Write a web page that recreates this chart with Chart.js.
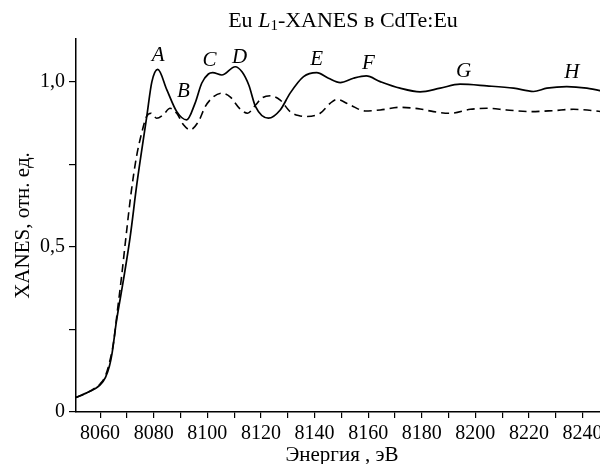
<!DOCTYPE html>
<html lang="ru">
<head>
    <meta charset="UTF-8">
    <title>Eu L1-XANES в CdTe:Eu</title>
    <script src="https://cdn.jsdelivr.net/npm/chart.js"></script>
    <style>
        html, body {
            margin: 0;
            padding: 0;
            width: 600px;
            height: 464px;
            overflow: hidden;
            background: #fff;
        }

        /* chart is a bit wider than the window, like the cropped original */
        .chart-box {
            position: absolute;
            left: 0;
            top: 0;
            width: 608px;
            height: 464px;
        }

        .title {
            position: absolute;
            left: 343px;
            top: 7px;
            transform: translateX(-50%);
            font-family: "Liberation Serif", serif;
            font-size: 22px;
            white-space: nowrap;
            color: #000;
        }

        .title sub {
            font-size: 15px;
            vertical-align: -3px;
            line-height: 0;
        }
    </style>
</head>
<body>
    <div class="chart-box">
        <canvas id="xanesChart"></canvas>
    </div>
    <div class="title">Eu <i>L</i><sub>1</sub>-XANES в CdTe:Eu</div>

    <script>
        // solid curve
        const energySolid = [8051, 8055, 8058, 8060, 8062, 8063.5, 8064.5, 8066, 8068.7, 8071.2,
            8073.7, 8077.4, 8079.3, 8081.5, 8084.9, 8088.6, 8092.3, 8095.4, 8097.9, 8100.4,
            8102, 8105.4, 8110.4, 8113, 8115.5, 8118, 8122.8, 8127.2, 8130.9, 8135.9,
            8140.8, 8145.2, 8149.6, 8154.5, 8159.3, 8164.5, 8171.9, 8179.4, 8186.9, 8194.3,
            8204.3, 8214.3, 8221.7, 8226.7, 8234.1, 8241.6, 8249.5];
        const xanesSolid = [0.044, 0.058, 0.07, 0.082, 0.105, 0.14, 0.18, 0.27, 0.40, 0.53,
            0.69, 0.895, 1.0, 1.038, 0.976, 0.91, 0.885, 0.935, 0.996, 1.024,
            1.028, 1.021, 1.046, 1.03, 0.99, 0.925, 0.89, 0.915, 0.966, 1.016,
            1.028, 1.011, 0.998, 1.011, 1.018, 1.001, 0.981, 0.97, 0.981, 0.993,
            0.988, 0.981, 0.971, 0.981, 0.986, 0.981, 0.968];

        // dashed curve
        const energyDashed = [8051, 8055, 8058, 8060, 8062, 8063.5, 8065, 8066.5, 8068, 8069.5,
            8071.5, 8073.5, 8075.5, 8077.3, 8079, 8081.1, 8083.5, 8086.1, 8088.6, 8091.1,
            8093.6, 8096.7, 8099.2, 8102.3, 8105.4, 8108.5, 8112, 8115, 8118, 8120.5,
            8123.5, 8127.2, 8130.9, 8134, 8137.1, 8142.1, 8145.8, 8148.3, 8153.3, 8158.9,
            8164.5, 8171.9, 8179.4, 8184.4, 8190.6, 8198.1, 8204.3, 8211.7, 8220.4, 8229.1,
            8236.6, 8249.5];
        const xanesDashed = [0.044, 0.058, 0.072, 0.085, 0.11, 0.15, 0.21, 0.31, 0.41, 0.52,
            0.66, 0.77, 0.845, 0.895, 0.905, 0.89, 0.9, 0.92, 0.905, 0.87,
            0.855, 0.88, 0.925, 0.955, 0.966, 0.955, 0.92, 0.905, 0.93, 0.952,
            0.958, 0.945, 0.91, 0.898, 0.895, 0.905, 0.935, 0.947, 0.93, 0.912,
            0.915, 0.923, 0.918, 0.91, 0.905, 0.917, 0.92, 0.915, 0.91, 0.913,
            0.917, 0.908];

        // peak letters and where they sit
        const peakNames = ['A', 'B', 'C', 'D', 'E', 'F', 'G', 'H'];
        const peakEnergy = [8081.7, 8091.1, 8100.8, 8112, 8140.8, 8160.1, 8195.6, 8236];
        const peakLevel = [1.079, 0.971, 1.065, 1.075, 1.069, 1.057, 1.031, 1.028];

        const yLabels = { 0: '0', 0.5: '0,5', 1: '1,0' };

        Chart.defaults.font.family = '"Liberation Serif", serif';
        Chart.defaults.font.size = 20;
        Chart.defaults.color = '#000';

        function toPoints(xs, ys) {
            return xs.map((x, i) => ({ x: x, y: ys[i] }));
        }

        const peakLetters = {
            id: 'peakLetters',
            afterDatasetsDraw(chart) {
                const ctx = chart.ctx;
                const xs = chart.scales.x;
                const ys = chart.scales.y;
                ctx.save();
                ctx.font = 'italic 21px "Liberation Serif", serif';
                ctx.fillStyle = '#000';
                ctx.textAlign = 'center';
                ctx.textBaseline = 'middle';
                peakNames.forEach((name, i) => {
                    ctx.fillText(name, xs.getPixelForValue(peakEnergy[i]), ys.getPixelForValue(peakLevel[i]));
                });
                ctx.restore();
            }
        };

        const ctx = document.getElementById('xanesChart').getContext('2d');

        new Chart(ctx, {
            type: 'line',
            data: {
                datasets: [{
                    data: toPoints(energySolid, xanesSolid),
                    borderColor: '#000',
                    borderWidth: 1.7,
                    pointRadius: 0,
                    cubicInterpolationMode: 'monotone'
                }, {
                    data: toPoints(energyDashed, xanesDashed),
                    borderColor: '#000',
                    borderWidth: 1.6,
                    borderDash: [8, 5],
                    pointRadius: 0,
                    cubicInterpolationMode: 'monotone'
                }]
            },
            options: {
                responsive: true,
                maintainAspectRatio: false,
                animation: false,
                layout: { padding: { left: 0, right: 0, top: 39, bottom: -4 } },
                plugins: {
                    legend: { display: false },
                    tooltip: { enabled: false }
                },
                scales: {
                    x: {
                        type: 'linear',
                        min: 8051,
                        max: 8249.5,
                        afterFit(scale) { scale.height = 56; },
                        border: { display: true, color: '#000', width: 1.5 },
                        grid: { drawOnChartArea: false, drawTicks: true, tickLength: 6, color: '#000', lineWidth: 1.2 },
                        ticks: {
                            stepSize: 10,
                            includeBounds: false,
                            autoSkip: false,
                            maxRotation: 0,
                            padding: 4,
                            callback: v => (v % 20 === 0 ? String(v) : '')
                        },
                        title: {
                            display: true,
                            text: 'Энергия , эВ',
                            font: { size: 21 },
                            padding: { top: 0, bottom: 0 }
                        }
                    },
                    y: {
                        min: 0,
                        max: 1.13,
                        afterFit(scale) { scale.width = 76; },
                        border: { display: true, color: '#000', width: 1.5 },
                        grid: { drawOnChartArea: false, drawTicks: true, tickLength: 7, color: '#000', lineWidth: 1.2 },
                        ticks: {
                            stepSize: 0.25,
                            includeBounds: false,
                            autoSkip: false,
                            padding: 4,
                            callback: v => (yLabels[v] !== undefined ? yLabels[v] : '')
                        },
                        title: {
                            display: true,
                            text: 'XANES, отн. ед.',
                            font: { size: 21 },
                            padding: { top: 11, bottom: 0 }
                        }
                    }
                }
            },
            plugins: [peakLetters]
        });
    </script>
</body>
</html>
